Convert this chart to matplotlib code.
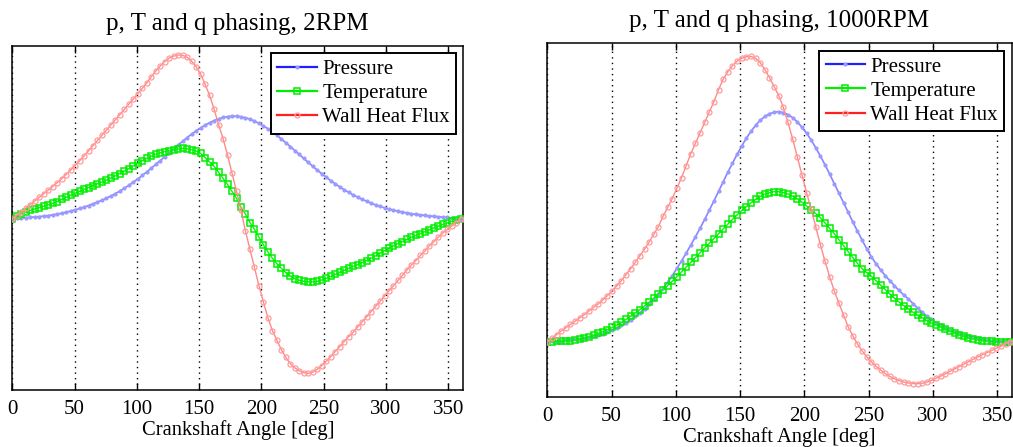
"""
p, T and q phasing over one crank revolution, 2 RPM vs 1000 RPM.
"""

import numpy as np
import matplotlib
matplotlib.use('Agg')
import matplotlib.pyplot as plt

# crank angle grid, 101 samples over 0..360 deg
angle = np.arange(101) * 3.6

# normalised traces, 2 RPM
pressure_2 = [
    0.000, 0.004, 0.006, 0.008, 0.010, 0.012, 0.014, 0.017, 0.020, 0.024,
    0.028, 0.033, 0.039, 0.046, 0.053, 0.061, 0.069, 0.078, 0.088, 0.098,
    0.109, 0.121, 0.133, 0.147, 0.162, 0.178, 0.195, 0.213, 0.232, 0.252,
    0.273, 0.294, 0.316, 0.338, 0.360, 0.383, 0.406, 0.428, 0.450, 0.471,
    0.491, 0.510, 0.527, 0.543, 0.557, 0.569, 0.579, 0.587, 0.592, 0.595,
    0.594, 0.591, 0.585, 0.577, 0.566, 0.553, 0.538, 0.522, 0.503, 0.484,
    0.463, 0.441, 0.419, 0.396, 0.373, 0.350, 0.327, 0.305, 0.283, 0.262,
    0.242, 0.222, 0.204, 0.186, 0.170, 0.154, 0.140, 0.127, 0.114, 0.103,
    0.092, 0.082, 0.073, 0.065, 0.058, 0.051, 0.045, 0.040, 0.035, 0.031,
    0.027, 0.024, 0.021, 0.018, 0.016, 0.013, 0.011, 0.009, 0.006, 0.003,
    0.000,
]
temperature_2 = [
    0.000, 0.015, 0.029, 0.041, 0.050, 0.058, 0.066, 0.074, 0.082, 0.090,
    0.101, 0.113, 0.125, 0.137, 0.149, 0.160, 0.171, 0.182, 0.193, 0.204,
    0.214, 0.225, 0.237, 0.250, 0.263, 0.277, 0.292, 0.307, 0.322, 0.337,
    0.351, 0.363, 0.374, 0.383, 0.390, 0.396, 0.401, 0.405, 0.408, 0.406,
    0.401, 0.393, 0.380, 0.355, 0.330, 0.305, 0.270, 0.235, 0.200, 0.160,
    0.120, 0.068, 0.028, -0.020, -0.060, -0.105, -0.150, -0.190, -0.227, -0.258,
    -0.285, -0.310, -0.330, -0.344, -0.354, -0.360, -0.363, -0.363, -0.360, -0.352,
    -0.343, -0.332, -0.320, -0.308, -0.297, -0.285, -0.274, -0.263, -0.252, -0.240,
    -0.227, -0.213, -0.198, -0.183, -0.168, -0.155, -0.142, -0.130, -0.118, -0.106,
    -0.095, -0.084, -0.073, -0.062, -0.051, -0.041, -0.031, -0.022, -0.014, -0.007,
    0.000,
]
heat_flux_2 = [
    0.000, 0.020, 0.040, 0.062, 0.083, 0.104, 0.125, 0.146, 0.167, 0.188,
    0.210, 0.233, 0.257, 0.282, 0.308, 0.336, 0.365, 0.394, 0.424, 0.454,
    0.484, 0.514, 0.544, 0.574, 0.604, 0.634, 0.664, 0.694, 0.724, 0.755,
    0.787, 0.822, 0.855, 0.885, 0.910, 0.930, 0.942, 0.948, 0.946, 0.935,
    0.912, 0.880, 0.838, 0.778, 0.715, 0.635, 0.545, 0.465, 0.370, 0.265,
    0.160, 0.050, -0.070, -0.175, -0.280, -0.385, -0.480, -0.570, -0.645, -0.700,
    -0.755, -0.800, -0.835, -0.860, -0.877, -0.888, -0.892, -0.885, -0.868, -0.847,
    -0.822, -0.795, -0.766, -0.737, -0.708, -0.679, -0.655, -0.625, -0.595, -0.565,
    -0.535, -0.505, -0.475, -0.445, -0.415, -0.385, -0.355, -0.325, -0.295, -0.265,
    -0.240, -0.210, -0.185, -0.155, -0.130, -0.105, -0.080, -0.060, -0.040, -0.020,
    0.000,
]

# normalised traces, 1000 RPM
pressure_1000 = [
    0.000, 0.002, 0.003, 0.004, 0.005, 0.006, 0.008, 0.010, 0.012, 0.015,
    0.018, 0.022, 0.027, 0.033, 0.040, 0.047, 0.055, 0.064, 0.074, 0.085,
    0.097, 0.111, 0.126, 0.142, 0.160, 0.179, 0.200, 0.222, 0.246, 0.271,
    0.297, 0.324, 0.352, 0.380, 0.410, 0.441, 0.472, 0.504, 0.536, 0.568,
    0.598, 0.628, 0.656, 0.682, 0.705, 0.725, 0.742, 0.755, 0.764, 0.769,
    0.771, 0.768, 0.761, 0.751, 0.737, 0.719, 0.699, 0.676, 0.650, 0.622,
    0.593, 0.562, 0.530, 0.498, 0.466, 0.434, 0.402, 0.371, 0.341, 0.312,
    0.285, 0.262, 0.241, 0.222, 0.205, 0.188, 0.172, 0.157, 0.144, 0.128,
    0.113, 0.099, 0.086, 0.075, 0.064, 0.055, 0.047, 0.040, 0.034, 0.028,
    0.024, 0.019, 0.015, 0.011, 0.008, 0.006, 0.004, 0.003, 0.002, 0.001,
    0.000,
]
temperature_1000 = [
    0.000, 0.000, 0.001, 0.002, 0.003, 0.004, 0.006, 0.009, 0.013, 0.017,
    0.022, 0.028, 0.034, 0.041, 0.048, 0.056, 0.065, 0.075, 0.086, 0.097,
    0.108, 0.120, 0.133, 0.146, 0.160, 0.174, 0.188, 0.203, 0.218, 0.234,
    0.250, 0.266, 0.282, 0.298, 0.314, 0.330, 0.346, 0.362, 0.378, 0.394,
    0.410, 0.425, 0.440, 0.453, 0.466, 0.477, 0.487, 0.495, 0.500, 0.503,
    0.503, 0.500, 0.495, 0.488, 0.479, 0.468, 0.455, 0.440, 0.430, 0.415,
    0.398, 0.380, 0.362, 0.342, 0.322, 0.302, 0.282, 0.263, 0.245, 0.232,
    0.220, 0.205, 0.190, 0.175, 0.160, 0.146, 0.133, 0.121, 0.110, 0.099,
    0.089, 0.080, 0.071, 0.063, 0.056, 0.049, 0.042, 0.035, 0.029, 0.023,
    0.018, 0.013, 0.009, 0.006, 0.004, 0.002, 0.001, 0.000, 0.000, 0.000,
    0.000,
]
heat_flux_1000 = [
    0.000, 0.012, 0.024, 0.036, 0.047, 0.058, 0.069, 0.080, 0.091, 0.103,
    0.115, 0.127, 0.140, 0.155, 0.170, 0.187, 0.205, 0.225, 0.245, 0.266,
    0.288, 0.310, 0.335, 0.360, 0.386, 0.420, 0.450, 0.480, 0.515, 0.550,
    0.590, 0.630, 0.665, 0.700, 0.735, 0.770, 0.805, 0.845, 0.880, 0.905,
    0.925, 0.940, 0.950, 0.955, 0.956, 0.950, 0.935, 0.912, 0.885, 0.855,
    0.825, 0.785, 0.735, 0.680, 0.620, 0.560, 0.500, 0.445, 0.385, 0.325,
    0.270, 0.218, 0.170, 0.130, 0.090, 0.050, 0.020, -0.007, -0.030, -0.050,
    -0.067, -0.082, -0.095, -0.106, -0.116, -0.124, -0.130, -0.135, -0.138, -0.140,
    -0.140, -0.139, -0.135, -0.129, -0.122, -0.115, -0.107, -0.099, -0.091, -0.083,
    -0.075, -0.067, -0.059, -0.051, -0.043, -0.036, -0.029, -0.022, -0.015, -0.007,
    0.000,
]

titles = ['p, T and q phasing, 2RPM', 'p, T and q phasing, 1000RPM']
labels = ['Pressure', 'Temperature', 'Wall Heat Flux']
xticks = [0, 50, 100, 150, 200, 250, 300, 350]

plt.rcParams['font.family'] = ['Liberation Serif', 'DejaVu Serif']

fig = plt.figure(figsize=(10.13, 4.47), dpi=100)
ax_left = fig.add_axes([0.0121, 0.1275, 0.4452, 0.7696])
ax_right = fig.add_axes([0.5403, 0.1112, 0.4584, 0.7919])

panels = [
    (ax_left, pressure_2, temperature_2, heat_flux_2, (-0.988, 1.0), 362, 4.4),
    (ax_right, pressure_1000, temperature_1000, heat_flux_1000, (-0.186, 1.0), 361.2, 3.9),
]

for k, (ax, p, T, q, ylim, xmax, sq) in enumerate(panels):
    ax.plot(angle, p, color='#8585ff', lw=1.2, marker='.', ms=4,
            mfc='#9a9aff', mec='#9a9aff', label=labels[0], zorder=3)
    ax.plot(angle, T, color='#00ff00', lw=1.0, marker='s', ms=sq,
            mfc='none', mec='#00ee00', mew=1.1, label=labels[1], zorder=4)
    ax.plot(angle, q, color='#ff8a8a', lw=1.0, marker='o', ms=3.6,
            mfc='none', mec='#ff9a9a', mew=0.9, label=labels[2], zorder=5)

    ax.set_xlim(0, xmax)
    ax.set_ylim(*ylim)
    ax.set_xticks(xticks)
    ax.set_yticks([])
    ax.tick_params(axis='x', direction='in', length=5, width=1, top=True,
                   labelsize=15, pad=7)
    ax.xaxis.grid(True, linestyle=(0, (1, 3)), color='black', lw=1.0)
    for s in ax.spines.values():
        s.set_linewidth(1.1)
    ax.set_title(titles[k], fontsize=18, pad=11.5)
    ax.set_xlabel('Crankshaft Angle [deg]', fontsize=14.8, labelpad=1)

    leg = ax.legend(loc='upper right', bbox_to_anchor=(0.984, 0.979),
                    borderaxespad=0, fontsize=15, fancybox=False,
                    framealpha=1, edgecolor='black', handlelength=1.9,
                    handletextpad=0.25, labelspacing=0.22, borderpad=0.3)
    leg.get_frame().set_linewidth(1.4)
    for h, c in zip(leg.legend_handles, ['#2020ff', '#00ee00', '#ff2020']):
        h.set_color(c)
        h.set_linewidth(1.6)

plt.savefig('out.png', dpi=100)
plt.close(fig)
